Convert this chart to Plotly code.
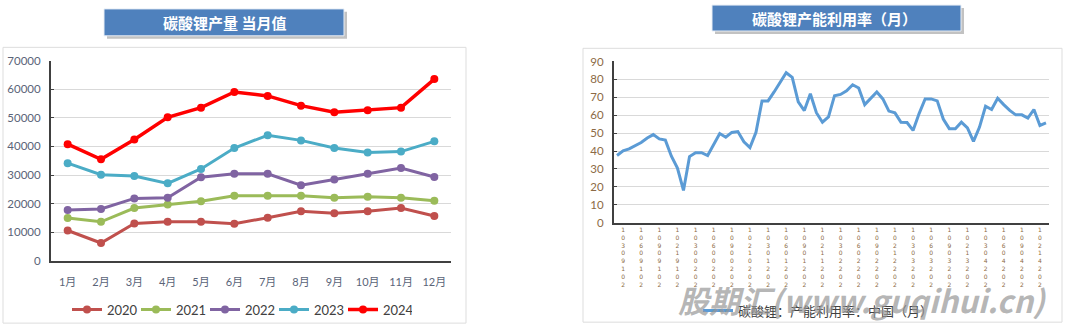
import plotly.graph_objects as go
import pandas as pd

# ---------------- data ----------------
months = ["1月", "2月", "3月", "4月", "5月", "6月", "7月", "8月", "9月", "10月", "11月", "12月"]
prod_2020 = [10560, 6180, 13030, 13600, 13600, 12920, 15060, 17300, 16630, 17300, 18430, 15620]
prod_2021 = [14940, 13600, 18430, 19660, 20790, 22700, 22700, 22700, 22020, 22360, 22020, 21010]
prod_2022 = [17750, 18090, 21800, 22020, 29210, 30450, 30450, 26400, 28430, 30450, 32470, 29330]
prod_2023 = [34160, 30110, 29660, 27080, 32130, 39440, 43930, 42130, 39440, 37870, 38200, 41800]
prod_2024 = [40790, 35510, 42470, 50220, 53600, 59100, 57700, 54300, 52000, 52700, 53600, 63600]
series_names = ["2020", "2021", "2022", "2023", "2024"]
series_colors = ["#C0504D", "#9BBB59", "#8064A2", "#4BACC6", "#FF0000"]

util_dates = [d.strftime("%Y-%m-%d") for d in pd.date_range("2019-02-01", periods=72, freq="MS")]
util_values = [37.5, 40.1, 41.2, 43.2, 44.8, 47.3, 49.2, 46.8, 46.1, 37.1,
               30.5, 18.0, 36.9, 39.1, 39.1, 37.5, 43.4, 49.8, 47.7, 50.4,
               50.9, 45.2, 41.9, 50.5, 68.0, 68.0, 73.0, 78.4, 83.7, 81.1,
               67.5, 62.6, 72.0, 61.4, 56.1, 59.1, 70.9, 71.6, 73.6, 77.0,
               75.2, 65.9, 69.5, 73.0, 69.1, 62.3, 61.3, 56.1, 55.9, 51.5,
               60.9, 69.1, 69.1, 68.0, 57.9, 52.5, 52.5, 56.1, 52.9, 45.4,
               53.4, 65.0, 63.2, 69.5, 65.9, 62.7, 60.2, 60.2, 58.4, 63.2,
               54.3, 55.7]
util_tick_dates = util_dates[1::3]
util_tick_text = ["<br>".join(reversed(d.replace("-", ""))) for d in util_tick_dates]

W, H = 1072, 332
def px(x):
    return x / W
def py(y):
    return 1 - y / H

FONT = "Lato, 'Noto Sans CJK SC', sans-serif"
CJK = "'Noto Sans CJK SC', sans-serif"

fig = go.Figure()

prod_series = [prod_2020, prod_2021, prod_2022, prod_2023, prod_2024]
for name, vals, col in zip(series_names, prod_series, series_colors):
    lw = 3.5 if name == "2024" else 3
    fig.add_trace(go.Scatter(
        x=months, y=vals, name=name, mode="lines+markers",
        line=dict(color=col, width=lw), marker=dict(color=col, size=8),
        xaxis="x", yaxis="y", legend="legend"))

fig.add_trace(go.Scatter(
    x=util_dates, y=util_values, name="碳酸锂：产能利用率：中国（月）", mode="lines",
    line=dict(color="#5B9BD5", width=3), xaxis="x2", yaxis="y2", legend="legend2"))

left_tick_color = "#5A6478"
right_tick_color = "#8C6A45"
axis_line = "#404040"
grid = "#D9D9D9"

shapes = []
# chart area borders
shapes.append(dict(type="rect", xref="paper", yref="paper", x0=px(3), x1=px(466), y0=py(329), y1=py(42),
                   line=dict(color="#DDDDDD", width=1), fillcolor="rgba(0,0,0,0)", layer="below"))
shapes.append(dict(type="rect", xref="paper", yref="paper", x0=px(583), x1=px(1062), y0=py(328), y1=py(43),
                   line=dict(color="#DDDDDD", width=1), fillcolor="rgba(0,0,0,0)", layer="below"))
# title boxes with shadow
for (x0, x1, y0, y1) in [(104, 344, 2, 30), (712, 961, -2, 25)]:
    shapes.append(dict(type="rect", xref="paper", yref="paper", x0=px(x0 + 3), x1=px(x1 + 3), y0=py(y1 + 3), y1=py(y0 + 3),
                       line=dict(width=0), fillcolor="rgba(120,120,120,0.45)"))
    shapes.append(dict(type="rect", xref="paper", yref="paper", x0=px(x0), x1=px(x1), y0=py(y1), y1=py(y0),
                       line=dict(color="#E8EEF6", width=1), fillcolor="#4F81BD"))

annotations = [
    dict(text="<b>碳酸锂产量 当月值</b>", x=px(224), y=py(16), xref="paper", yref="paper",
         showarrow=False, font=dict(family=CJK, size=15, color="white"), xanchor="center", yanchor="middle"),
    dict(text="<b>碳酸锂产能利用率（月）</b>", x=px(834), y=py(12), xref="paper", yref="paper",
         showarrow=False, font=dict(family=CJK, size=15, color="white"), xanchor="center", yanchor="middle"),
    dict(text="<b><i>股期汇(www.guqihui.cn)</i></b>", x=px(862), y=py(304), xref="paper", yref="paper",
         showarrow=False, font=dict(family="'Noto Sans CJK SC', 'DejaVu Sans', sans-serif", size=31,
                                    color="rgba(150,150,150,0.7)"),
         xanchor="center", yanchor="middle"),
]

fig.update_layout(
    width=W, height=H, margin=dict(l=0, r=0, t=0, b=0),
    paper_bgcolor="white", plot_bgcolor="white",
    font=dict(family=FONT),
    showlegend=True,
    xaxis=dict(domain=[px(51), px(451)], anchor="y", type="category", range=[-0.5, 11.5],
               showline=True, linecolor=axis_line, linewidth=2, showgrid=False, ticks="",
               ticklabelstandoff=10,
               tickfont=dict(size=11, color=left_tick_color, family=FONT), zeroline=False),
    yaxis=dict(domain=[py(264), py(56)], anchor="x", range=[0, 70000], dtick=10000, tickformat="d",
               showline=True, linecolor=axis_line, linewidth=2, showgrid=True, gridcolor=grid, gridwidth=1,
               ticks="inside", ticklen=3, tickcolor=axis_line, zeroline=False, ticklabelstandoff=6,
               tickfont=dict(size=11.5, color=left_tick_color, family=FONT)),
    xaxis2=dict(domain=[px(614), px(1049)], anchor="y2", type="category", range=[-0.5, 71.5],
                tickmode="array", tickvals=util_tick_dates, ticktext=util_tick_text,
                showline=True, linecolor=axis_line, linewidth=2, showgrid=False, ticks="", tickangle=0,
                tickfont=dict(size=6, color=right_tick_color, family="'DejaVu Sans', sans-serif"),
                zeroline=False),
    yaxis2=dict(domain=[py(224.5), py(56.7)], anchor="x2", range=[0, 90], dtick=10,
                showline=True, linecolor=axis_line, linewidth=2, showgrid=True, gridcolor=grid, gridwidth=1,
                ticks="inside", ticklen=3, tickcolor=axis_line, zeroline=False, ticklabelstandoff=6,
                tickfont=dict(size=11.5, color=right_tick_color, family=FONT)),
    legend=dict(orientation="h", x=px(67), y=py(315), xanchor="left", yanchor="middle",
                font=dict(size=13, color="#404040", family=FONT), entrywidth=24, entrywidthmode="pixels",
                bgcolor="rgba(0,0,0,0)", traceorder="normal"),
    legend2=dict(orientation="h", x=px(698), y=py(316), xanchor="left", yanchor="middle",
                 font=dict(size=13, color="#404040", family=CJK), bgcolor="rgba(0,0,0,0)"),
    shapes=shapes, annotations=annotations,
)

fig.write_html("out.html")
